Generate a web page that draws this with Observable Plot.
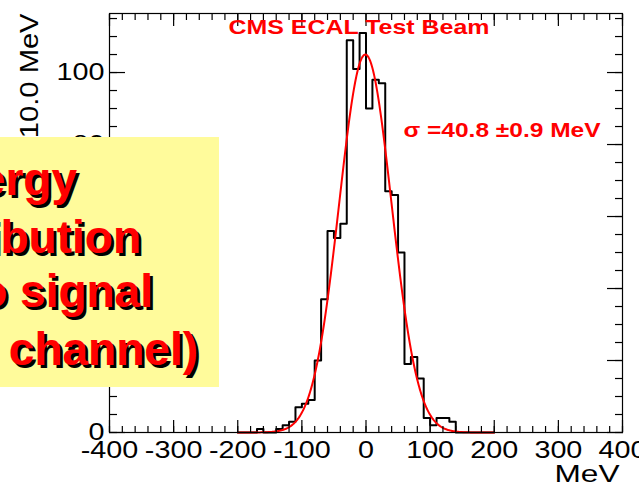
<!DOCTYPE html>
<html><head><meta charset="utf-8">
<script src="https://cdn.jsdelivr.net/npm/d3@7"></script>
<script src="https://cdn.jsdelivr.net/npm/@observablehq/plot@0.6"></script>
<style>
body{margin:0;background:#fff;}
#wrap{position:relative;width:639px;height:486px;overflow:hidden;font-family:"Liberation Sans",Arial,sans-serif;}
#box{position:absolute;left:0;top:137px;width:219px;height:250px;background:#fffb9b;overflow:hidden;}
.ln{position:absolute;white-space:nowrap;font:bold 46px "Liberation Sans",Arial,sans-serif;color:#ff0000;text-shadow:3px 3px 0 #000;line-height:46px;}
</style></head><body>
<div id="wrap"></div>
<script>
// Histogram: 10 MeV bins starting at -200 MeV
const binStart = -200;
const binWidth = 10;
const counts = [0,0,0,1,0,0,1,2,3,7,8,9,20,37,56,54,58,109,101,111,90,98,97,67,66,50,19,21,15,4,2,4,4,3,0,0,0,0,0,0];

// Gaussian fit parameters
const fitMean = -1;
const fitSigma = 40.8;
const fitAmp = 105;
const fitRange = [-200, 200];

// Axes
const xMajor = [-400,-300,-200,-100,0,100,200,300,400];
const xLabels = ["-400","-300","-200","-100","0","100","200","300","400"];
const xMinor = d3.range(-400, 401, 20);
const yMajor = [0,20,40,60,80,100];
const yLabels = ["0","20","40","60","80","100"];
const yMinor = d3.range(0, 116, 5);

const titleText = "CMS ECAL Test Beam";
const sigmaText = "\u03C3 =40.8 \u00B10.9 MeV";
const yTitle = "Events / 10.0 MeV";
const xTitle = "MeV";
const boxLines = ["Energy", "distribution", "(no signal", "in channel)"];

const hist = counts.map((c, i) => ({x: binStart + i * binWidth, y: c}));
hist.push({x: binStart + counts.length * binWidth, y: counts[counts.length - 1]});

const fit = d3.range(fitRange[0], fitRange[1] + 0.5, 1).map(x => ({
  x, y: fitAmp * Math.exp(-0.5 * ((x - fitMean) / fitSigma) ** 2)
}));

const font = "'Liberation Sans', Arial, Helvetica, sans-serif";
const chart = Plot.plot({
  width: 639, height: 486,
  marginLeft: 109, marginRight: 17, marginTop: 13, marginBottom: 54,
  style: {fontFamily: font, background: "white", color: "black"},
  x: {domain: [-400, 400], axis: null},
  y: {domain: [0, 116.4], axis: null},
  marks: [
    Plot.line(hist, {x: "x", y: "y", curve: "step-after", stroke: "black", strokeWidth: 2}),
    Plot.line(fit, {x: "x", y: "y", stroke: "#ff0000", strokeWidth: 2}),
    Plot.frame({stroke: "black", strokeWidth: 1.2}),
    Plot.axisX(xMinor, {anchor: "bottom", tickSize: -6, fill: "none", label: null, strokeWidth: 1.2}),
    Plot.axisX(xMajor, {anchor: "bottom", tickSize: -12, fill: "none", label: null, strokeWidth: 1.2}),
    Plot.axisX(xMinor, {anchor: "top", tickSize: -6, fill: "none", label: null, strokeWidth: 1.2}),
    Plot.axisX(xMajor, {anchor: "top", tickSize: -12, fill: "none", label: null, strokeWidth: 1.2}),
    Plot.axisY(yMinor, {anchor: "left", tickSize: -8, fill: "none", label: null, strokeWidth: 1.2}),
    Plot.axisY(yMajor, {anchor: "left", tickSize: -16, fill: "none", label: null, strokeWidth: 1.2}),
    Plot.axisY(yMinor, {anchor: "right", tickSize: -8, fill: "none", label: null, strokeWidth: 1.2}),
    Plot.axisY(yMajor, {anchor: "right", tickSize: -16, fill: "none", label: null, strokeWidth: 1.2}),
    Plot.axisX(xMajor, {anchor: "bottom", tickSize: 0, tickPadding: 9, label: null, fontSize: 23,
      tickFormat: d => xLabels[xMajor.indexOf(d)]}),
    Plot.axisY(yMajor, {anchor: "left", tickSize: 0, tickPadding: 5, label: null, fontSize: 23,
      tickFormat: d => yLabels[yMajor.indexOf(d)]}),
    Plot.text([titleText], {text: d => d, frameAnchor: "top-left", dx: 119, dy: 20.5,
      textAnchor: "start", lineAnchor: "bottom", fill: "#ff0000", fontWeight: "bold", fontSize: 21}),
    Plot.text([sigmaText], {text: d => d, frameAnchor: "top-left", dx: 294, dy: 123.7,
      textAnchor: "start", lineAnchor: "bottom", fill: "#ff0000", fontWeight: "bold", fontSize: 21}),
    Plot.text([yTitle], {text: d => d, frameAnchor: "top-left", dx: -72, dy: 0, rotate: -90,
      textAnchor: "end", lineAnchor: "bottom", fill: "black", fontSize: 26}),
    Plot.text([xTitle], {text: d => d, frameAnchor: "bottom-right", dx: -3, dy: 49.7,
      textAnchor: "end", lineAnchor: "bottom", fill: "black", fontSize: 23})
  ]
});

const wrap = document.getElementById("wrap");
wrap.appendChild(chart);

// widen glyphs like the original Helvetica rendering
const targets = {};
targets[titleText] = 261;
targets[sigmaText] = 197;
targets[xTitle] = 65;
chart.querySelectorAll("text").forEach(t => {
  const s = t.textContent;
  const w = t.getComputedTextLength();
  let L;
  if (targets[s] !== undefined) L = targets[s];
  else if (s === yTitle) L = w * 1.12;
  else L = w * 1.25;
  t.setAttribute("textLength", L);
  t.setAttribute("lengthAdjust", "spacingAndGlyphs");
});

// yellow overlay box
const box = document.createElement("div");
box.id = "box";
wrap.appendChild(box);
const rights = [77, 141, 153, 198];
const tops = [19, 77, 131, 189];
boxLines.forEach((s, i) => {
  const d = document.createElement("div");
  d.className = "ln";
  d.textContent = s;
  d.style.right = (219 - rights[i]) + "px";
  d.style.top = tops[i] + "px";
  box.appendChild(d);
});
</script>
</body></html>
